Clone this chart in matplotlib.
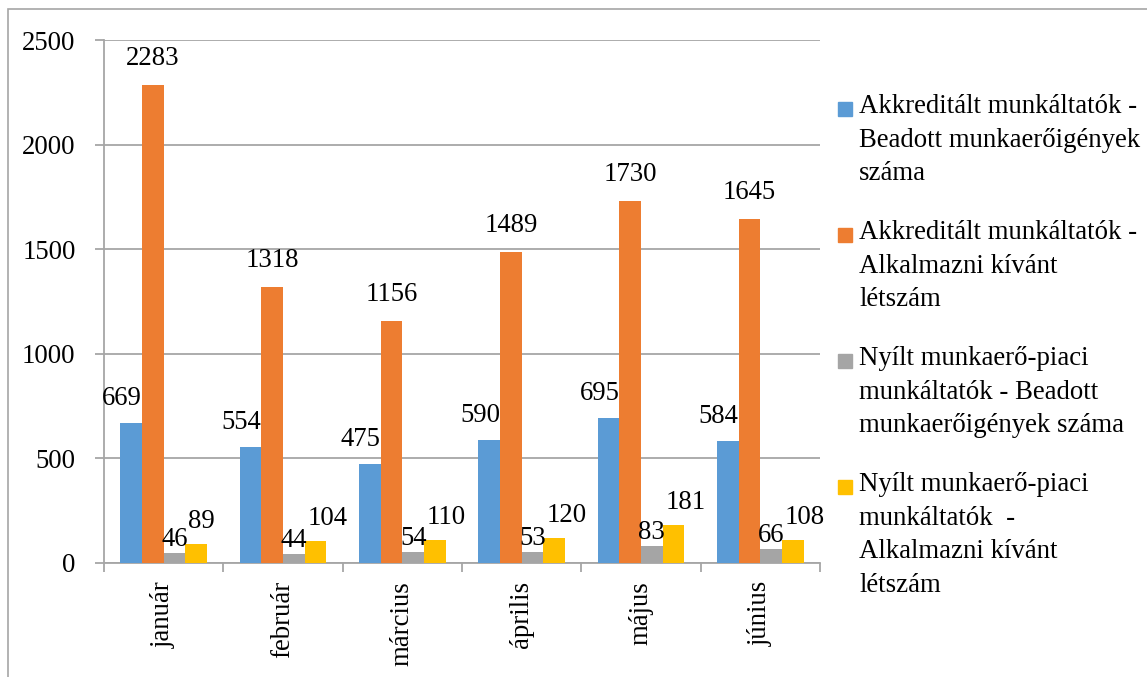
import matplotlib
matplotlib.use("Agg")
import matplotlib.pyplot as plt
from matplotlib.patches import Rectangle
import numpy as np

months = ["január", "február", "március", "április", "május", "június"]
series_names = [
    "Akkreditált munkáltatók -\nBeadott munkaerőigények\nszáma",
    "Akkreditált munkáltatók -\nAlkalmazni kívánt\nlétszám",
    "Nyílt munkaerő-piaci\nmunkáltatók - Beadott\nmunkaerőigények száma",
    "Nyílt munkaerő-piaci\nmunkáltatók  -\nAlkalmazni kívánt\nlétszám",
]
akkr_igeny = [669, 554, 475, 590, 695, 584]
akkr_letszam = [2283, 1318, 1156, 1489, 1730, 1645]
nyilt_igeny = [46, 44, 54, 53, 83, 66]
nyilt_letszam = [89, 104, 110, 120, 181, 108]
colors = ["#5B9BD5", "#ED7D31", "#A5A5A5", "#FFC000"]

plt.rcParams['font.family'] = ['Liberation Serif', 'DejaVu Serif']
FS = 19.3
GRID = "#A6A6A6"

fig = plt.figure(figsize=(11.47, 6.77), dpi=100)
ax = fig.add_axes([104/1147, 1 - 563/677, (820-104)/1147, (563-40)/677])

# outer chart frame
fig.patches.append(Rectangle((8/1147, -0.1), 1.2, 1.1 - 9/677, transform=fig.transFigure,
                             fill=False, edgecolor=GRID, linewidth=1.2))

x = np.arange(len(months))
w = 0.182
all_vals = [akkr_igeny, akkr_letszam, nyilt_igeny, nyilt_letszam]
bars = []
for i, vals in enumerate(all_vals):
    b = ax.bar(x + (i - 1.5) * w, vals, w, color=colors[i], zorder=3)
    bars.append(b)

# data labels (roughly where excel put them)
for i, vals in enumerate(all_vals):
    for j, v in enumerate(vals):
        xc = x[j] + (i - 1.5) * w
        if i == 0:
            ax.annotate(str(v), (xc + w/2, v), xytext=(0, 18), textcoords='offset pixels',
                        ha='right', va='baseline', fontsize=FS)
        elif i == 1:
            ax.annotate(str(v), (xc, v), xytext=(0, 20), textcoords='offset pixels',
                        ha='center', va='baseline', fontsize=FS)
        elif i == 2:
            ax.annotate(str(v), (xc, v), xytext=(0, 7), textcoords='offset pixels',
                        ha='center', va='baseline', fontsize=FS)
        else:
            ax.annotate(str(v), (xc - w/2, v), xytext=(3, 16), textcoords='offset pixels',
                        ha='left', va='baseline', fontsize=FS)

ax.set_xlim(-0.5, len(months) - 0.5)
ax.set_ylim(0, 2500)
ax.set_yticks(range(0, 2501, 500))
ax.yaxis.grid(True, color=GRID, linewidth=1.3, zorder=0)
ax.set_axisbelow(True)

for s in ["top", "right"]:
    ax.spines[s].set_visible(False)
for s in ["left", "bottom"]:
    ax.spines[s].set_color(GRID)
    ax.spines[s].set_linewidth(1.3)

ax.set_xticks(x)
ax.set_xticklabels(months, rotation=90, fontsize=FS)
ax.set_xticks(np.arange(-0.5, len(months)), minor=True)
ax.tick_params(axis='x', which='major', length=0, pad=13)
ax.tick_params(axis='x', which='minor', length=6.5, width=1.3, color=GRID, direction='out')
ax.tick_params(axis='y', length=6.5, width=1.3, color=GRID, pad=14, labelsize=FS)
ax.spines["left"].set_bounds(0, 2500)

# legend drawn by hand to keep the marker on the first line
for i, name in enumerate(series_names):
    base = 116 + 126 * i
    fig.patches.append(Rectangle((838/1147, 1 - base/677), 14/1147, 14/677,
                                 transform=fig.transFigure, color=colors[i]))
    fig.text(859/1147, 1 - (base - 22)/677, name, ha='left', va='top', fontsize=FS,
             linespacing=1.45)

fig.savefig("out.png", dpi=100)
